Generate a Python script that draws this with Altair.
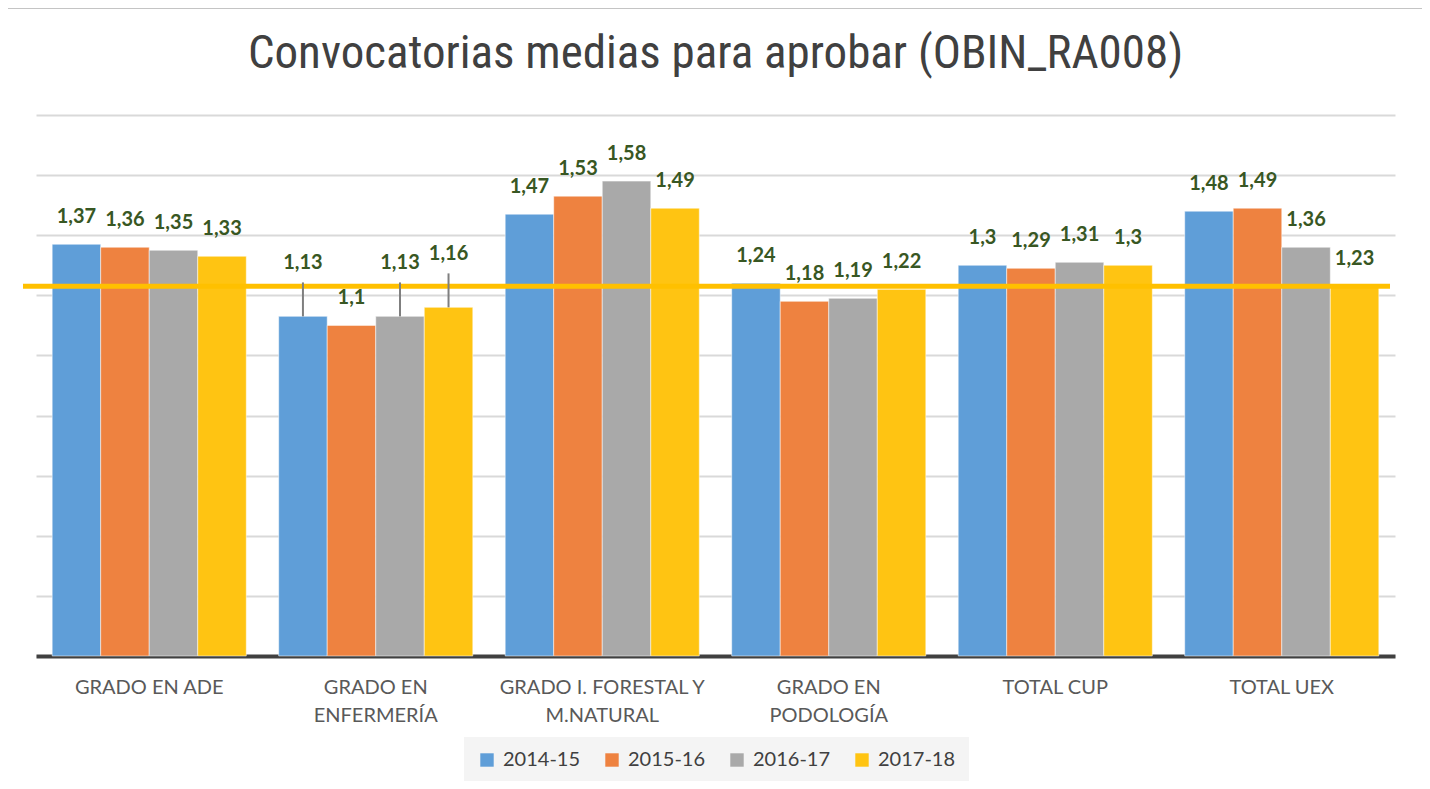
import altair as alt
import pandas as pd

categories = ["GRADO EN ADE", "GRADO EN\nENFERMERÍA", "GRADO I. FORESTAL Y\nM.NATURAL",
              "GRADO EN\nPODOLOGÍA", "TOTAL CUP", "TOTAL UEX"]
series = ["2014-15", "2015-16", "2016-17", "2017-18"]
v_2014_15 = [1.37, 1.13, 1.47, 1.24, 1.30, 1.48]
v_2015_16 = [1.36, 1.10, 1.53, 1.18, 1.29, 1.49]
v_2016_17 = [1.35, 1.13, 1.58, 1.19, 1.31, 1.36]
v_2017_18 = [1.33, 1.16, 1.49, 1.22, 1.30, 1.23]
reference_value = [1.23]
# labels moved up with a leader line (as in the original)
lifted = [("GRADO EN\nENFERMERÍA", "2014-15"), ("GRADO EN\nENFERMERÍA", "2016-17"),
          ("GRADO EN\nENFERMERÍA", "2017-18")]

colors = ["#5F9ED8", "#EE8240", "#A9A9A9", "#FFC412"]
LIFT = 0.087
LEADER = 0.113

rows = []
for s, vals in zip(series, [v_2014_15, v_2015_16, v_2016_17, v_2017_18]):
    for c, v in zip(categories, vals):
        is_lifted = (c, s) in lifted
        rows.append({
            "cat": c, "serie": s, "valor": v,
            "etiqueta": f"{v:g}".replace(".", ","),
            "label_y": v + (LIFT if is_lifted else 0.0),
            "leader_top": v + LEADER if is_lifted else None,
        })
df = pd.DataFrame(rows)

W, H = 1359, 541
xenc = alt.X("cat:N", sort=categories, title=None,
             scale=alt.Scale(paddingInner=0.143, paddingOuter=0.0714))
xoff = alt.XOffset("serie:N", sort=series, scale=alt.Scale(paddingInner=0, paddingOuter=0))
yscale = alt.Scale(domain=[0, 1.8], nice=False, zero=True)

border = alt.Chart(alt.Data(values=[{}])).mark_rect(
    fill=None, stroke="#C4C4C4", strokeWidth=2
).encode(x=alt.value(-29), x2=alt.value(1387), y=alt.value(-107), y2=alt.value(700))

bars = alt.Chart(df).mark_bar(stroke="white", strokeWidth=1, strokeOpacity=0.5).encode(
    x=xenc,
    xOffset=xoff,
    y=alt.Y("valor:Q", scale=yscale, title=None,
            axis=alt.Axis(values=[0, 0.2, 0.4, 0.6, 0.8, 1.0, 1.2, 1.4, 1.6, 1.8])),
    color=alt.Color("serie:N", sort=series,
                    scale=alt.Scale(domain=series, range=colors),
                    legend=alt.Legend(orient="none", legendX=428, legendY=622,
                                      direction="horizontal", title=None,
                                      fillColor="#F4F4F4", padding=13,
                                      symbolType="square", symbolSize=180,
                                      symbolStrokeWidth=0, labelFont="Lato",
                                      labelFontSize=20, labelColor="#404040",
                                      labelOffset=6, columnPadding=21)),
)

ref = alt.Chart(pd.DataFrame({"ref": reference_value})).mark_rule(
    color="#FFC000", strokeWidth=5
).encode(y=alt.Y("ref:Q", scale=yscale), x=alt.value(-13), x2=alt.value(1354))

leaders = alt.Chart(df).transform_filter("isValid(datum.leader_top)").mark_rule(
    color="#7F7F7F", strokeWidth=2
).encode(x=xenc, xOffset=xoff, y=alt.Y("valor:Q", scale=yscale), y2="leader_top:Q")

labels = alt.Chart(df).mark_text(
    font="Lato", fontSize=20, fontWeight="bold", color="#385723",
    baseline="middle", dy=-27
).encode(x=xenc, xOffset=xoff, y=alt.Y("label_y:Q", scale=yscale), text="etiqueta:N")

chart = alt.layer(border, bars, ref, leaders, labels).properties(
    width=W, height=H,
    autosize=alt.AutoSizeParams(type="none"),
    padding={"left": 28, "top": 107, "right": 27, "bottom": 125},
    title=alt.TitleParams(
        "Convocatorias medias para aprobar (OBIN_RA008)",
        font="Liberation Sans Narrow, Roboto Condensed, Liberation Sans",
        fontSize=47, fontWeight="normal", color="#404040",
        anchor="middle", frame="group", baseline="alphabetic", offset=-108),
).configure_view(stroke=None).configure_axisX(
    labelFont="Lato", labelFontSize=20, labelColor="#595959", labelAngle=0,
    labelExpr="split(datum.label, '\\n')", labelLineHeight=28, labelPadding=21,
    labelLimit=0, ticks=False, domainColor="#404040", domainWidth=4, grid=False
).configure_axisY(
    grid=True, gridColor="#D9D9D9", gridWidth=2, labels=False, ticks=False,
    domain=False
)

chart.save("out.html", embed_options={"renderer": "svg", "actions": False})
